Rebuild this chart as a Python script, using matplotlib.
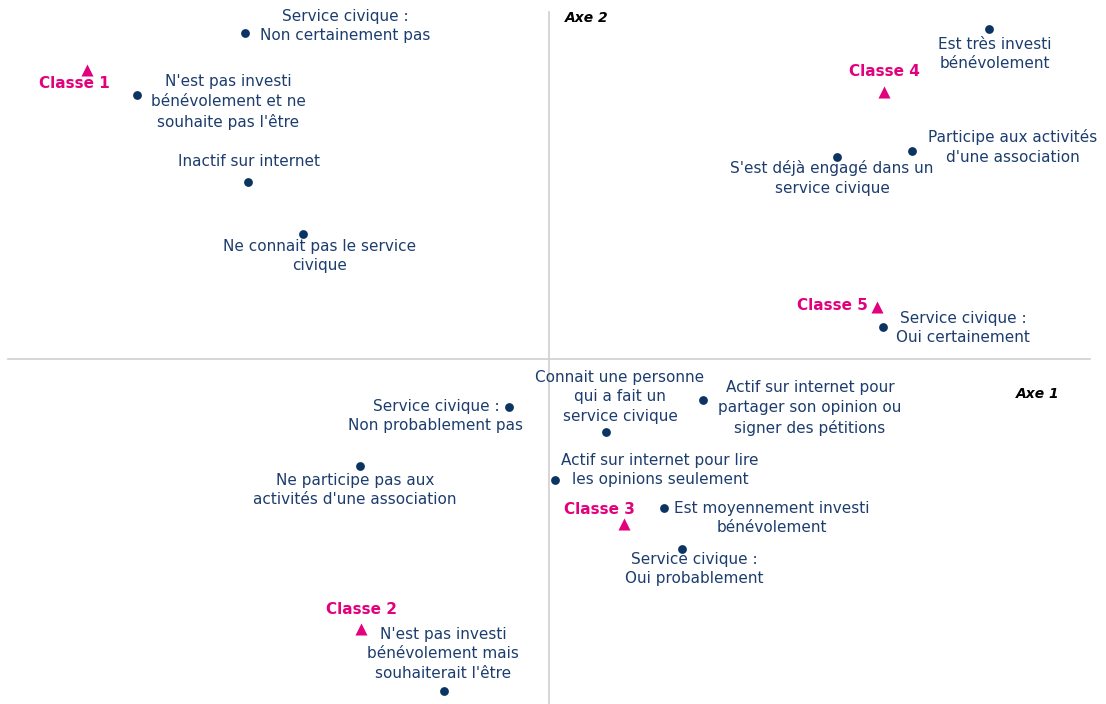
import matplotlib.pyplot as plt

# modalities (dots): coordinates on the factorial plane (Axe 1, Axe 2)
mod_labels = [
    "Service civique :\nNon certainement pas",
    "N'est pas investi\nbénévolement et ne\nsouhaite pas l'être",
    "Inactif sur internet",
    "Ne connait pas le service\ncivique",
    "Est très investi\nbénévolement",
    "Participe aux activités\nd'une association",
    "S'est déjà engagé dans un\nservice civique",
    "Service civique :\nOui certainement",
    "Connait une personne\nqui a fait un\nservice civique",
    "Actif sur internet pour\npartager son opinion ou\nsigner des pétitions",
    "Service civique :\nNon probablement pas",
    "Ne participe pas aux\nactivités d'une association",
    "Actif sur internet pour lire\nles opinions seulement",
    "Est moyennement investi\nbénévolement",
    "Service civique :\nOui probablement",
    "N'est pas investi\nbénévolement mais\nsouhaiterait l'être",
]
mod_x = [-3.04, -4.12, -3.01, -2.46, 4.40, 3.63, 2.88, 3.34, 0.57, 1.54, -0.40, -1.89, 0.06, 1.15, 1.33, -1.05]
mod_y = [3.26, 2.64, 1.77, 1.25, 3.30, 2.08, 2.02, 0.32, -0.73, -0.41, -0.48, -1.07, -1.21, -1.49, -1.90, -3.32]
# label positions (centre of text block)
lab_x = [-2.04, -3.21, -3.00, -2.29, 4.46, 4.64, 2.83, 4.14, 0.71, 2.61, -1.13, -1.94, 1.11, 2.23, 1.45, -1.06]
lab_y = [3.33, 2.57, 1.97, 1.03, 3.05, 2.12, 1.81, 0.31, -0.38, -0.49, -0.57, -1.31, -1.11, -1.59, -2.10, -2.95]

# classes (triangles)
cls_labels = ["Classe 1", "Classe 2", "Classe 3", "Classe 4", "Classe 5"]
cls_x = [-4.62, -1.88, 0.75, 3.35, 3.28]
cls_y = [2.89, -2.70, -1.65, 2.67, 0.52]
cls_lab_x = [-4.75, -1.88, 0.50, 3.35, 2.83]
cls_lab_y = [2.76, -2.51, -1.51, 2.87, 0.53]

navy = "#0b3463"
text_navy = "#1c3d6e"
pink = "#e3007d"

fig = plt.figure(figsize=(11.06, 7.04), dpi=100)
ax = fig.add_axes([0, 0, 1, 1])
ax.set_xlim(-5.49, 5.57)
ax.set_ylim(-3.45, 3.59)
ax.axis("off")

# axes of the plane
ax.plot([-5.41, 5.41], [0, 0], color="#cfcfcf", lw=1.2, zorder=1)
ax.plot([0, 0], [-3.45, 3.47], color="#cfcfcf", lw=1.2, zorder=1)

ax.scatter(mod_x, mod_y, s=40, color=navy, zorder=3, linewidths=0)
for lab, x, y in zip(mod_labels, lab_x, lab_y):
    ax.text(x, y, lab, ha="center", va="center", fontsize=11, color=text_navy,
            linespacing=1.38, zorder=2)

ax.scatter(cls_x, cls_y, s=75, marker="^", color=pink, zorder=3, linewidths=0)
for lab, x, y in zip(cls_labels, cls_lab_x, cls_lab_y):
    ax.text(x, y, lab, ha="center", va="center", fontsize=11, color=pink,
            fontweight="bold", zorder=2)

ax.text(0.38, 3.41, "Axe 2", ha="center", va="center", fontsize=10,
        fontweight="bold", fontstyle="italic", color="black")
ax.text(4.89, -0.35, "Axe 1", ha="center", va="center", fontsize=10,
        fontweight="bold", fontstyle="italic", color="black")

plt.savefig("out.png", dpi=100)
